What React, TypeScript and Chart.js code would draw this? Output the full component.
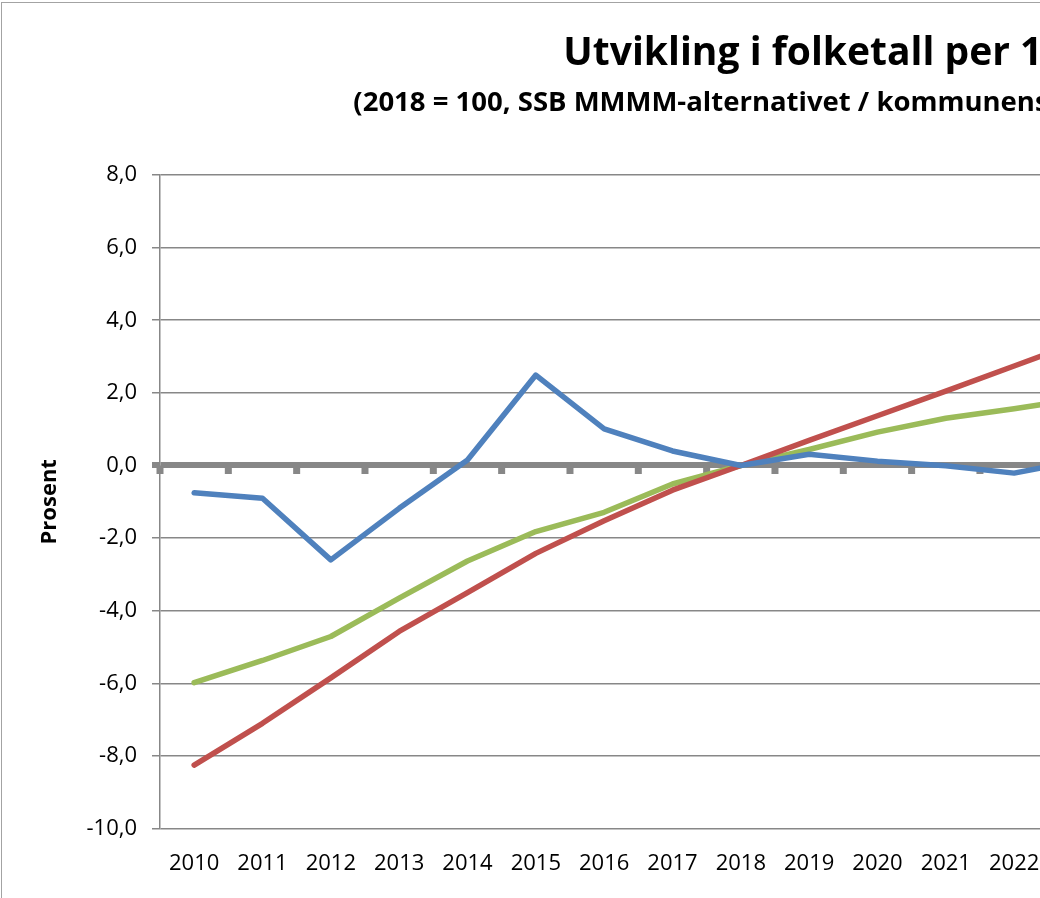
import React, { useEffect, useRef } from "react";
import { Chart, registerables } from "chart.js";

Chart.register(...registerables);

const years = [
  "2010", "2011", "2012", "2013", "2014", "2015", "2016", "2017", "2018", "2019",
  "2020", "2021", "2022", "2023", "2024", "2025", "2026", "2027", "2028", "2029", "2030",
];

const kommunen = [
  -0.75, -0.9, -2.6, -1.18, 0.15, 2.49, 1.01, 0.4, 0.0, 0.31,
  0.12, -0.01, -0.21, 0.15, 0.1, 0.05, -0.1, -0.2, -0.3, -0.35, -0.4,
];
const ssbMmmm = [
  -8.25, -7.1, -5.85, -4.57, -3.5, -2.42, -1.52, -0.68, 0.0, 0.69,
  1.37, 2.05, 2.74, 3.43, 4.1, 4.75, 5.4, 6.0, 6.6, 7.2, 7.8,
];
const prognose = [
  -5.98, -5.37, -4.71, -3.65, -2.63, -1.82, -1.29, -0.51, 0.0, 0.44,
  0.92, 1.3, 1.56, 1.85, 2.1, 2.35, 2.6, 2.85, 3.05, 3.25, 3.45,
];

const seriesNames = ["Faktisk utvikling", "SSB MMMM", "Kommunens prognose"];
const seriesColors = ["#4F81BD", "#C0504D", "#9BBB59"];

const titleText = "Utvikling i folketall per 1. januar";
const subtitleText = "(2018 = 100, SSB MMMM-alternativet / kommunens befolkningsframskriving)";
const yTitle = "Prosent";

const FONT = "'Open Sans', Lato, sans-serif";
const GRID = "#878787";

const CANVAS_W = 1750;
const CANVAS_H = 940;

const notchPlugin = {
  id: "zeroNotches",
  beforeDatasetsDraw(chart: any) {
    const xs = chart.scales.x;
    const ys = chart.scales.y;
    const ctx = chart.ctx;
    const y0 = ys.getPixelForValue(0);
    const n = xs.ticks.length;
    const step = (xs.right - xs.left) / n;
    ctx.save();
    ctx.strokeStyle = GRID;
    ctx.lineWidth = 7;
    ctx.beginPath();
    for (let i = 0; i <= n; i++) {
      const px = xs.left + i * step;
      ctx.moveTo(px, y0);
      ctx.lineTo(px, y0 + 8.5);
    }
    ctx.stroke();
    ctx.restore();
  },
};

export default function App() {
  const ref = useRef<HTMLCanvasElement | null>(null);

  useEffect(() => {
    if (!ref.current) return;
    const data = [kommunen, ssbMmmm, prognose];
    const chart = new Chart(ref.current, {
      type: "line",
      data: {
        labels: years,
        datasets: data.map((d, i) => ({
          label: seriesNames[i],
          data: d,
          borderColor: seriesColors[i],
          backgroundColor: seriesColors[i],
          borderWidth: 5.5,
          pointRadius: 0,
          borderCapStyle: "round",
          borderJoinStyle: "round",
          tension: 0,
        })),
      },
      options: {
        responsive: false,
        animation: false,
        devicePixelRatio: 1,
        layout: { padding: { left: 0, right: CANVAS_W - 158 - 21 * 68.33, top: 0, bottom: 44 } },
        plugins: {
          legend: { display: false },
          tooltip: { enabled: false },
          title: {
            display: true,
            text: titleText,
            fullSize: false,
            color: "#000",
            font: { family: FONT, size: 39, weight: "bold", lineHeight: 1 },
            padding: { top: 31, bottom: 0 },
          },
          subtitle: {
            display: true,
            text: subtitleText,
            fullSize: false,
            color: "#000",
            font: { family: FONT, size: 27.5, weight: "bold", lineHeight: 1 },
            padding: { top: 16, bottom: 58.5 },
          },
        },
        scales: {
          x: {
            offset: true,
            grid: { display: false, drawTicks: false },
            border: { display: false },
            ticks: {
              color: "#000",
              font: { family: FONT, size: 22 },
              padding: 22,
              maxRotation: 0,
              autoSkip: false,
            },
          },
          y: {
            min: -10,
            max: 8,
            afterFit: (scale: any) => {
              scale.width = 158;
            },
            ticks: {
              stepSize: 2,
              color: "#000",
              font: { family: FONT, size: 22 },
              padding: 15,
              callback: (v: any) => Number(v).toFixed(1).replace(".", ","),
            },
            grid: {
              color: GRID,
              lineWidth: (c: any) => (c.tick && c.tick.value === 0 ? 6 : 1.5),
              tickLength: 8,
            },
            border: { display: true, color: GRID, width: 1.5 },
            title: {
              display: true,
              text: yTitle,
              color: "#000",
              font: { family: FONT, size: 22, weight: "bold", lineHeight: 1.2 },
              padding: { top: 35, bottom: 0 },
            },
          },
        },
      },
      plugins: [notchPlugin],
    });
    return () => chart.destroy();
  }, []);

  return (
    <div
      style={{
        position: "fixed",
        left: 1,
        top: 2,
        border: "1px solid #a3a3a3",
        background: "#fff",
        width: CANVAS_W,
        height: CANVAS_H,
      }}
    >
      <canvas ref={ref} width={CANVAS_W} height={CANVAS_H} style={{ display: "block" }} />
    </div>
  );
}
